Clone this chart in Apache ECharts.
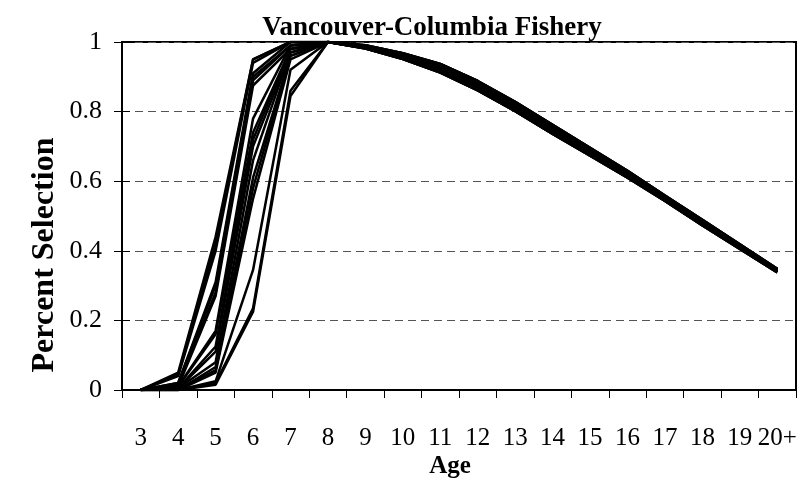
<!DOCTYPE html>
<html>
<head>
<meta charset="utf-8">
<script src="https://cdn.jsdelivr.net/npm/echarts@6/dist/echarts.min.js"></script>
<style>
html,body{margin:0;padding:0;background:#fff;}
#chart{width:801px;height:482px;}
</style>
</head>
<body>
<div id="chart"></div>
<script>
// Categories (Age)
var ages = ['3','4','5','6','7','8','9','10','11','12','13','14','15','16','17','18','19','20+'];
var yTicks = [0, 0.2, 0.4, 0.6, 0.8, 1];

// Selection curves (one per year)
var s01 = [0, 0.05, 0.44, 0.95, 1.0, 1.0, 0.991, 0.968, 0.937, 0.888, 0.828, 0.762, 0.696, 0.630, 0.559, 0.489, 0.419, 0.348];
var s02 = [0, 0.045, 0.42, 0.95, 1.0, 1.0, 0.987, 0.961, 0.927, 0.877, 0.817, 0.752, 0.687, 0.622, 0.553, 0.483, 0.414, 0.344];
var s03 = [0, 0.04, 0.40, 0.94, 1.0, 1.0, 0.983, 0.954, 0.917, 0.866, 0.806, 0.741, 0.678, 0.614, 0.546, 0.476, 0.408, 0.340];
var s04 = [0, 0.02, 0.31, 0.91, 1.0, 1.0, 0.989, 0.965, 0.932, 0.883, 0.823, 0.757, 0.691, 0.626, 0.556, 0.486, 0.416, 0.346];
var s05 = [0, 0.02, 0.30, 0.90, 0.99, 1.0, 0.985, 0.958, 0.922, 0.871, 0.811, 0.746, 0.682, 0.618, 0.549, 0.479, 0.410, 0.342];
var s06 = [0, 0.015, 0.28, 0.89, 0.99, 1.0, 0.981, 0.951, 0.912, 0.861, 0.801, 0.736, 0.673, 0.610, 0.543, 0.473, 0.405, 0.338];
var s07 = [0, 0.01, 0.27, 0.875, 0.98, 1.0, 0.991, 0.968, 0.937, 0.888, 0.828, 0.762, 0.696, 0.630, 0.559, 0.489, 0.419, 0.348];
var s08 = [0, 0.01, 0.17, 0.78, 0.99, 1.0, 0.987, 0.961, 0.927, 0.877, 0.817, 0.752, 0.687, 0.622, 0.553, 0.483, 0.414, 0.344];
var s09 = [0, 0.01, 0.16, 0.74, 0.98, 1.0, 0.983, 0.954, 0.917, 0.866, 0.806, 0.741, 0.678, 0.614, 0.546, 0.476, 0.408, 0.340];
var s10 = [0, 0.005, 0.125, 0.72, 0.98, 1.0, 0.989, 0.965, 0.932, 0.883, 0.823, 0.757, 0.691, 0.626, 0.556, 0.486, 0.416, 0.346];
var s11 = [0, 0.005, 0.11, 0.70, 0.97, 1.0, 0.985, 0.958, 0.922, 0.871, 0.811, 0.746, 0.682, 0.618, 0.549, 0.479, 0.410, 0.342];
var s12 = [0, 0.005, 0.08, 0.66, 0.97, 1.0, 0.981, 0.951, 0.912, 0.861, 0.801, 0.736, 0.673, 0.610, 0.543, 0.473, 0.405, 0.338];
var s13 = [0, 0, 0.066, 0.61, 0.96, 1.0, 0.991, 0.968, 0.937, 0.888, 0.828, 0.762, 0.696, 0.630, 0.559, 0.489, 0.419, 0.348];
var s14 = [0, 0, 0.057, 0.58, 0.96, 1.0, 0.987, 0.961, 0.927, 0.877, 0.817, 0.752, 0.687, 0.622, 0.553, 0.483, 0.414, 0.344];
var s15 = [0, 0, 0.05, 0.55, 0.95, 1.0, 0.983, 0.954, 0.917, 0.866, 0.806, 0.741, 0.678, 0.614, 0.546, 0.476, 0.408, 0.340];
var s16 = [0, 0, 0.025, 0.345, 0.92, 1.0, 0.989, 0.965, 0.932, 0.883, 0.823, 0.757, 0.691, 0.626, 0.556, 0.486, 0.416, 0.346];
var s17 = [0, 0, 0.02, 0.235, 0.86, 1.0, 0.985, 0.958, 0.922, 0.871, 0.811, 0.746, 0.682, 0.618, 0.549, 0.479, 0.410, 0.342];
var s18 = [0, 0, 0.015, 0.225, 0.845, 1.0, 0.981, 0.951, 0.912, 0.861, 0.801, 0.736, 0.673, 0.610, 0.543, 0.473, 0.405, 0.338];

var allSeries = [s01,s02,s03,s04,s05,s06,s07,s08,s09,s10,s11,s12,s13,s14,s15,s16,s17,s18];

var FONT = '"Liberation Serif", "Times New Roman", serif';

var chart = echarts.init(document.getElementById('chart'), null, {renderer: 'canvas'});

var series = allSeries.map(function (d, i) {
  return {
    name: 'S' + (i + 1),
    type: 'line',
    data: d,
    symbol: 'none',
    smooth: false,
    lineStyle: {color: '#000', width: 2.5},
    z: 3
  };
});

chart.setOption({
  animation: false,
  backgroundColor: '#fff',
  grid: {left: 122, right: 5, top: 42, bottom: 92, show: true, borderColor: '#000', borderWidth: 2, backgroundColor: 'transparent'},
  xAxis: {
    type: 'category',
    data: ages,
    boundaryGap: true,
    axisLine: {lineStyle: {color: '#000', width: 2}},
    axisTick: {show: true, length: 8, lineStyle: {color: '#000', width: 1}},
    axisLabel: {interval: 0, color: '#000', fontFamily: FONT, fontSize: 25, margin: 36},
    splitLine: {show: false}
  },
  yAxis: [{
    type: 'value',
    min: yTicks[0],
    max: yTicks[yTicks.length - 1],
    interval: 0.2,
    axisLine: {show: true, lineStyle: {color: '#000', width: 2}},
    axisTick: {show: true, length: 8, lineStyle: {color: '#000', width: 1}},
    axisLabel: {color: '#000', fontFamily: FONT, fontSize: 26, margin: 20},
    splitLine: {show: true, lineStyle: {color: '#555', width: 1, type: [8, 5]}}
  }, {
    type: 'value',
    position: 'left',
    min: yTicks[0],
    max: yTicks[yTicks.length - 1],
    interval: 0.2,
    axisLine: {show: false},
    axisTick: {show: true, inside: true, length: 8, lineStyle: {color: '#000', width: 1}},
    axisLabel: {show: false},
    splitLine: {show: false}
  }],
  graphic: [
    {type: 'text', x: 432, y: 28, z: 10, style: {text: 'Vancouver-Columbia Fishery', font: 'bold 27px ' + FONT, fill: '#000', textAlign: 'center', textVerticalAlign: 'middle'}},
    {type: 'text', x: 450, y: 467, z: 10, style: {text: 'Age', font: 'bold 25px ' + FONT, fill: '#000', textAlign: 'center', textVerticalAlign: 'middle'}},
    {type: 'text', x: 45, y: 255, rotation: Math.PI / 2, z: 10, style: {text: 'Percent Selection', font: 'bold 32px ' + FONT, fill: '#000', textAlign: 'center', textVerticalAlign: 'middle'}}
  ],
  series: series
});
</script>
</body>
</html>
